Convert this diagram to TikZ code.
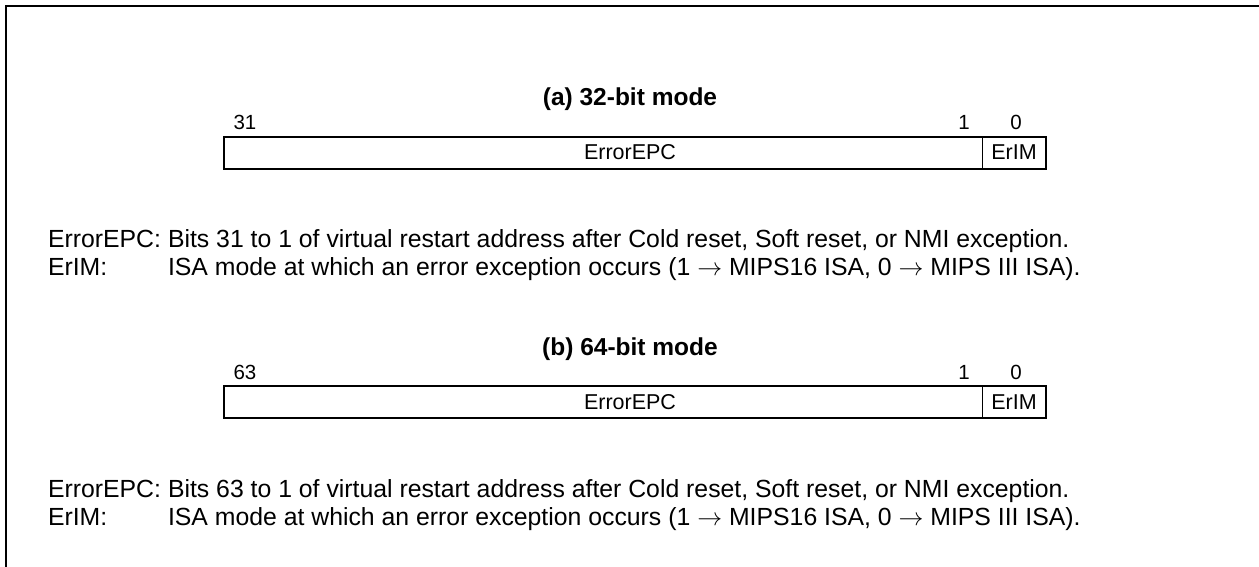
\documentclass[tikz,border=0pt]{standalone}
\usepackage{fontspec}
\setmainfont{Liberation Sans}
\begin{document}
\begin{tikzpicture}[x=1pt,y=-1pt,
  every node/.style={inner sep=0pt, outer sep=0pt},
  desc/.style={font=\fontsize{24.8}{28}\selectfont, anchor=base west},
  bitnum/.style={font=\fontsize{20.5}{25}\selectfont, anchor=base},
  regtitle/.style={font=\bfseries\fontsize{24.5}{28}\selectfont, anchor=base},
  fieldlabel/.style={font=\fontsize{21.5}{25}\selectfont, anchor=base},
  regbox/.style={line width=1.8pt},
  divider/.style={line width=1pt}
]
\useasboundingbox (0,0) rectangle (1259,567);
% frame
\draw[line width=2pt] (1262,6.5) -- (5.5,6.5) -- (5.5,570);

% ---------- (a) 32-bit mode ----------
\node[regtitle] (ta) at (630,106) {(a) 32-bit mode};
\node[bitnum] (a31) at (245,130) {31};
\node[bitnum] (a1) at (964,130) {1};
\node[bitnum] (a0) at (1016,130) {0};
\coordinate (aNW) at (224,137);
\coordinate (aSE) at (1046,169);
\coordinate (aDT) at (982,137);
\coordinate (aDB) at (982,169);
\draw[regbox] (aNW) rectangle (aSE);
\draw[divider] (aDT) -- (aDB);
\node[fieldlabel] (aepc) at (630,160) {ErrorEPC};
\node[fieldlabel] (aerl) at (1014,160) {ErIM};
\node[desc] (ad1) at (48,247) {ErrorEPC:};
\node[desc] (ad1t) at (168,247) {Bits 31 to 1 of virtual restart address after Cold reset, Soft reset, or NMI exception.};
\node[desc] (ad2) at (48,275) {ErIM:};
\node[desc] (ad2t) at (168,275) {ISA mode at which an error exception occurs (1 $\rightarrow$ MIPS16 ISA, 0 $\rightarrow$ MIPS III ISA).};

% ---------- (b) 64-bit mode ----------
\node[regtitle] (tb) at (630,355) {(b) 64-bit mode};
\node[bitnum] (b63) at (245,379) {63};
\node[bitnum] (b1) at (964,379) {1};
\node[bitnum] (b0) at (1016,379) {0};
\coordinate (bNW) at (224,386);
\coordinate (bSE) at (1046,418);
\coordinate (bDT) at (982,386);
\coordinate (bDB) at (982,418);
\draw[regbox] (bNW) rectangle (bSE);
\draw[divider] (bDT) -- (bDB);
\node[fieldlabel] (bepc) at (630,409) {ErrorEPC};
\node[fieldlabel] (berl) at (1014,409) {ErIM};
\node[desc] (bd1) at (48,497) {ErrorEPC:};
\node[desc] (bd1t) at (168,497) {Bits 63 to 1 of virtual restart address after Cold reset, Soft reset, or NMI exception.};
\node[desc] (bd2) at (48,525) {ErIM:};
\node[desc] (bd2t) at (168,525) {ISA mode at which an error exception occurs (1 $\rightarrow$ MIPS16 ISA, 0 $\rightarrow$ MIPS III ISA).};
\end{tikzpicture}
\end{document}
